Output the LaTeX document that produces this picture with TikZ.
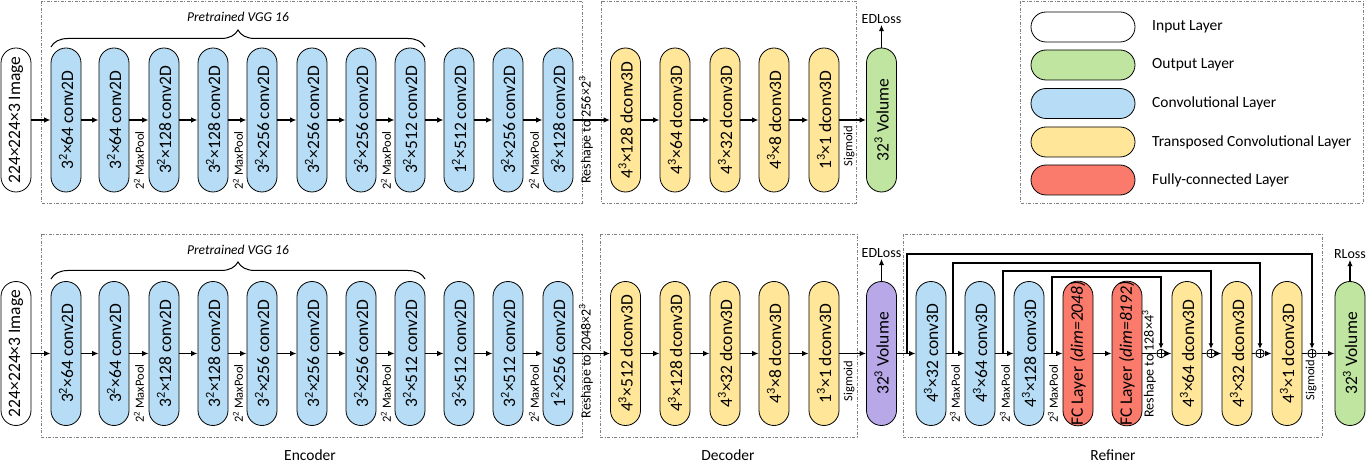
\documentclass[tikz,border=0pt]{standalone}
\usepackage{fontspec}
\setmainfont{Carlito}
\usetikzlibrary{arrows.meta,decorations.pathreplacing}

\definecolor{convblue}{HTML}{B6DDF5}
\definecolor{deconvyellow}{HTML}{FFE699}
\definecolor{outgreen}{HTML}{BFE5A0}
\definecolor{fcred}{HTML}{FA7B6C}
\definecolor{volpurple}{HTML}{B8A8E8}
\definecolor{groupgray}{HTML}{808080}

\newcommand\pw[2]{#1\textsuperscript{#2}}

\tikzset{
  layer/.style={draw, line width=0.8pt, rounded corners=15pt, rotate=90,
    minimum width=144pt, minimum height=30pt, inner sep=0pt,
    font=\fontsize{17.5}{17.5}\selectfont},
  inlayer/.style={layer, fill=white},
  conv/.style={layer, fill=convblue},
  dconv/.style={layer, fill=deconvyellow},
  fc/.style={layer, fill=fcred},
  outvol/.style={layer, fill=outgreen},
  midvol/.style={layer, fill=volpurple},
  keybox/.style={draw, line width=0.8pt, rounded corners=15pt,
    minimum width=104pt, minimum height=30pt},
  keytext/.style={anchor=west, inner sep=0pt, font=\fontsize{15.5}{15.5}\selectfont},
  flow/.style={line width=1.4pt, -{Latex[length=6.5pt,width=5.5pt]}},
  plain/.style={line width=1.4pt},
  skip/.style={line width=1.1pt, -{Latex[length=5.5pt,width=5pt]}},
  group/.style={draw=groupgray, line width=0.8pt,
    dash pattern=on 3pt off 1.5pt on 1pt off 1.5pt},
  small/.style={inner sep=0pt, font=\fontsize{12.5}{12.5}\selectfont},
  pool/.style={small, rotate=90, anchor=west},
  vlabel/.style={small, rotate=90},
  reshape/.style={inner sep=0pt, rotate=90, font=\fontsize{14}{14}\selectfont},
  loss/.style={inner sep=1pt, font=\fontsize{14}{14}\selectfont},
  title/.style={inner sep=0pt, font=\fontsize{15.5}{15.5}\selectfont},
  vggtitle/.style={inner sep=0pt, font=\fontsize{13.5}{13.5}\selectfont\itshape},
  curly/.style={decorate, decoration={brace, amplitude=17pt}, line width=1pt},
  sum/.style={circle, draw, fill=white, line width=0.8pt, minimum size=8.5pt,
    inner sep=0pt, path picture={\draw[line width=0.8pt]
      (path picture bounding box.north) -- (path picture bounding box.south)
      (path picture bounding box.west) -- (path picture bounding box.east);}},
}

\begin{document}
\begin{tikzpicture}[x=1pt, y=-1pt]
\useasboundingbox (0,0) rectangle (1366,462);

% ---------------- group frames ----------------
\draw[group] (41,1) rectangle (582,203);
\draw[group] (601,1) rectangle (856,203);
\draw[group] (1020,1) rectangle (1363,203);
\draw[group] (41,234) rectangle (582,437);
\draw[group] (600,234) rectangle (857,437);
\draw[group] (903,234) rectangle (1322,437);

\node[title] (encname) at (310,455) {Encoder};
\node[title] (decname) at (728,455) {Decoder};
\node[title] (refname) at (1113,455) {Refiner};

% ---------------- first network ----------------
\node[vggtitle] (vgga) at (238,17) {Pretrained VGG 16};
\draw[curly] (51,47) -- (425,47);

\node[inlayer] (ina) at (16,120) {224×224×3 Image};
\node[conv] (a1) at (66,120) {\pw{3}{2}×64 conv2D};
\node[conv] (a2) at (114,120) {\pw{3}{2}×64 conv2D};
\node[conv] (a3) at (164,120) {\pw{3}{2}×128 conv2D};
\node[conv] (a4) at (213,120) {\pw{3}{2}×128 conv2D};
\node[conv] (a5) at (262,120) {\pw{3}{2}×256 conv2D};
\node[conv] (a6) at (312,120) {\pw{3}{2}×256 conv2D};
\node[conv] (a7) at (361,120) {\pw{3}{2}×256 conv2D};
\node[conv] (a8) at (410,120) {\pw{3}{2}×512 conv2D};
\node[conv] (a9) at (459,120) {\pw{1}{2}×512 conv2D};
\node[conv] (a10) at (508,120) {\pw{3}{2}×256 conv2D};
\node[conv] (a11) at (558,120) {\pw{3}{2}×128 conv2D};
\node[reshape] (rsa) at (586,130) {Reshape to 256×\pw{2}{3}};
\node[dconv] (da1) at (625.5,120) {\pw{4}{3}×128 dconv3D};
\node[dconv] (da2) at (675,120) {\pw{4}{3}×64 dconv3D};
\node[dconv] (da3) at (725,120) {\pw{4}{3}×32 dconv3D};
\node[dconv] (da4) at (774,120) {\pw{4}{3}×8 dconv3D};
\node[dconv] (da5) at (824,120) {\pw{1}{3}×1 dconv3D};
\node[vlabel] (sga) at (849,146) {Sigmoid};
\node[outvol] (va) at (881.5,120) {\pw{32}{3} Volume};
\node[loss] (lossa) at (881.5,19) {EDLoss};

\node[pool] (pa1) at (139,190) {\pw{2}{2} MaxPool};
\node[pool] (pa2) at (238,190) {\pw{2}{2} MaxPool};
\node[pool] (pa3) at (386,190) {\pw{2}{2} MaxPool};
\node[pool] (pa4) at (534,190) {\pw{2}{2} MaxPool};

\foreach \p/\q in {ina/a1,a1/a2,a2/a3,a3/a4,a4/a5,a5/a6,a6/a7,a7/a8,a8/a9,
  a9/a10,a10/a11,a11/da1,da1/da2,da2/da3,da3/da4,da4/da5,da5/va,va/lossa}
  \draw[flow] (\p) -- (\q);

% ---------------- second network ----------------
\node[vggtitle] (vggb) at (238,250) {Pretrained VGG 16};
\draw[curly] (51,279) -- (425,279);

\node[inlayer] (inb) at (16,353.5) {224×224×3 Image};
\node[conv] (b1) at (66,353.5) {\pw{3}{2}×64 conv2D};
\node[conv] (b2) at (114,353.5) {\pw{3}{2}×64 conv2D};
\node[conv] (b3) at (164,353.5) {\pw{3}{2}×128 conv2D};
\node[conv] (b4) at (213,353.5) {\pw{3}{2}×128 conv2D};
\node[conv] (b5) at (262,353.5) {\pw{3}{2}×256 conv2D};
\node[conv] (b6) at (312,353.5) {\pw{3}{2}×256 conv2D};
\node[conv] (b7) at (361,353.5) {\pw{3}{2}×256 conv2D};
\node[conv] (b8) at (410,353.5) {\pw{3}{2}×512 conv2D};
\node[conv] (b9) at (459,353.5) {\pw{3}{2}×512 conv2D};
\node[conv] (b10) at (508,353.5) {\pw{3}{2}×512 conv2D};
\node[conv] (b11) at (558,353.5) {\pw{1}{2}×256 conv2D};
\node[reshape] (rsb) at (586,361) {Reshape to 2048×\pw{2}{3}};
\node[dconv] (db1) at (625.5,353.5) {\pw{4}{3}×512 dconv3D};
\node[dconv] (db2) at (675,353.5) {\pw{4}{3}×128 dconv3D};
\node[dconv] (db3) at (725,353.5) {\pw{4}{3}×32 dconv3D};
\node[dconv] (db4) at (774,353.5) {\pw{4}{3}×8 dconv3D};
\node[dconv] (db5) at (824,353.5) {\pw{1}{3}×1 dconv3D};
\node[vlabel] (sgb) at (849,381) {Sigmoid};
\node[midvol] (vb) at (881.5,353.5) {\pw{32}{3} Volume};
\node[loss] (lossb) at (881.5,253) {EDLoss};

\node[pool] (pb1) at (139,423) {\pw{2}{2} MaxPool};
\node[pool] (pb2) at (238,423) {\pw{2}{2} MaxPool};
\node[pool] (pb3) at (386,423) {\pw{2}{2} MaxPool};
\node[pool] (pb4) at (534,423) {\pw{2}{2} MaxPool};

% refiner
\node[conv] (r1) at (931,353.5) {\pw{4}{3}×32 conv3D};
\node[conv] (r2) at (980,353.5) {\pw{4}{3}×64 conv3D};
\node[conv] (r3) at (1029,353.5) {\pw{4}{3}×128 conv3D};
\node[fc] (fc1) at (1078,353.5) {FC Layer \textit{(dim=2048)}};
\node[fc] (fc2) at (1127,353.5) {FC Layer \textit{(dim=8192)}};
\node[reshape] (rsc) at (1149,364) {Reshape to 128×\pw{4}{3}};
\node[dconv] (y1) at (1187,353.5) {\pw{4}{3}×64 dconv3D};
\node[dconv] (y2) at (1237,353.5) {\pw{4}{3}×32 dconv3D};
\node[dconv] (y3) at (1287,353.5) {\pw{4}{3}×1 dconv3D};
\node[outvol] (vc) at (1350,353.5) {\pw{32}{3} Volume};
\node[loss] (lossc) at (1350,254) {RLoss};
\node[vlabel] (sgc) at (1311,380) {Sigmoid};

\node[pool] (pc1) at (955,423) {\pw{2}{3} MaxPool};
\node[pool] (pc2) at (1005,423) {\pw{2}{3} MaxPool};
\node[pool] (pc3) at (1053,423) {\pw{2}{3} MaxPool};

\node[sum] (s1) at (1161,353.5) {};
\node[sum] (s2) at (1211,353.5) {};
\node[sum] (s3) at (1260,353.5) {};
\node[sum] (s4) at (1312,353.5) {};

\foreach \p/\q in {inb/b1,b1/b2,b2/b3,b3/b4,b4/b5,b5/b6,b6/b7,b7/b8,b8/b9,
  b9/b10,b10/b11,b11/db1,db1/db2,db2/db3,db3/db4,db4/db5,db5/vb,vb/lossb,
  vb/r1,r1/r2,r2/r3,r3/fc1,fc1/fc2,s1/y1,s2/y2,s3/y3,s4/vc,vc/lossc}
  \draw[flow] (\p) -- (\q);
\foreach \p/\q in {fc2/s1,y1/s2,y2/s3,y3/s4}
  \draw[plain] (\p) -- (\q);

% skip connections from the encoder side of the refiner
\coordinate (k1) at (907,353.5);
\coordinate (k2) at (953,353.5);
\coordinate (k3) at (1003,353.5);
\coordinate (k4) at (1052,353.5);
\draw[skip] (k1) -- ++(0,-99.5) -| (s4);
\draw[skip] (k2) -- ++(0,-90.5) -| (s3);
\draw[skip] (k3) -- ++(0,-82.5) -| (s2);
\draw[skip] (k4) -- ++(0,-76.5) -| (s1);

% ---------------- legend ----------------
\node[keybox, fill=white] (kin) at (1083,27) {};
\node[keybox, fill=outgreen] (kout) at (1083,65) {};
\node[keybox, fill=convblue] (kconv) at (1083,103.5) {};
\node[keybox, fill=deconvyellow] (kdconv) at (1083,142) {};
\node[keybox, fill=fcred] (kfc) at (1083,180) {};
\node[keytext] (tin) at (1152,27) {Input Layer};
\node[keytext] (tout) at (1152,65) {Output Layer};
\node[keytext] (tconv) at (1152,103.5) {Convolutional Layer};
\node[keytext] (tdconv) at (1152,142) {Transposed Convolutional Layer};
\node[keytext] (tfc) at (1152,180) {Fully-connected Layer};
\end{tikzpicture}
\end{document}
